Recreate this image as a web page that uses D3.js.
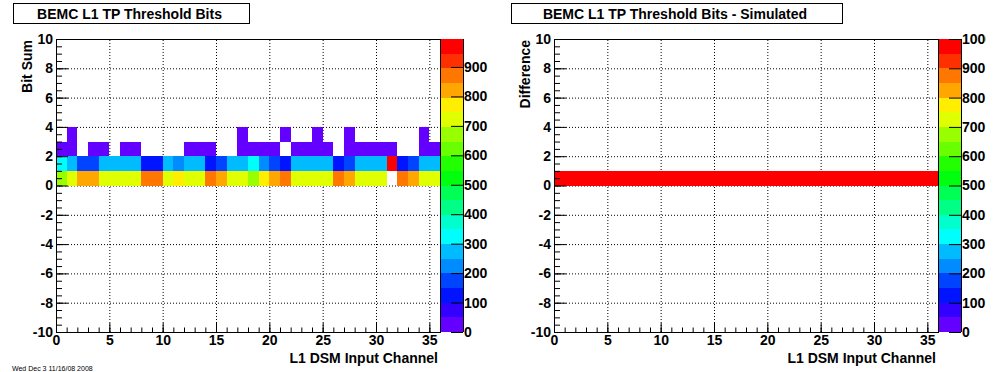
<!DOCTYPE html>
<meta charset="utf-8">
<head>
<script src="https://cdnjs.cloudflare.com/ajax/libs/d3/7.8.5/d3.min.js"></script>
<style>
  body { margin: 0; background: #fff; }
  text { font-family: "Liberation Sans", Arial, sans-serif; font-weight: bold; }
</style>
</head>
<body>
<div id="chart"></div>
<script>

// channel numbers 0..35 (one bin per channel)
var channels = d3.range(36);

// counts per bit-sum bin (left pad)
var bitSum0 = [675,720,820,810,725,730,722,725,880,875,730,770,725,728,870,815,735,715,
               680,775,825,870,730,728,720,725,875,810,730,728,725,0,870,820,720,722];
var bitSum1 = [310,265,180,180,265,270,270,265,120,125,270,230,265,262,122,185,265,270,
               310,215,165,125,262,262,265,265,125,175,260,262,265,995,130,180,270,270];
var bitSum2 = [15,10,0,10,10,0,8,10,0,0,0,0,10,10,8,0,0,10,
               10,10,10,0,8,10,10,10,0,10,10,10,10,5,0,0,7,8];
var bitSum3 = [0,5,0,0,0,0,0,0,0,0,0,0,0,0,0,0,0,5,
               0,0,0,5,0,0,5,0,0,5,0,0,0,0,0,0,3,0];

// difference data/sim (right pad): all entries in the 0 bin
var diff0 = [1000,1000,1000,1000,1000,1000,1000,1000,1000,1000,1000,1000,1000,1000,1000,1000,1000,1000,
             1000,1000,1000,1000,1000,1000,1000,1000,1000,1000,1000,1000,1000,1000,1000,1000,1000,1000];

var xTicks = [0,5,10,15,20,25,30,35];
var yTicks = [-10,-8,-6,-4,-2,0,2,4,6,8,10];
var zTicks = [0,100,200,300,400,500,600,700,800,900,1000];

// ROOT "pretty" palette, 20 contour levels picked out of 50 colours
var nLevels = 20;
var palette = d3.range(nLevels).map(function(k) {
    var idx = Math.floor((k + 0.99) * 50 / nLevels);
    return d3.hsl(280 - (idx + 1) * 5.6, 1, 0.5).formatHex();
});

var W = 996, H = 372, fs = "14px";
var plain = function(d) { return String(d); };

var svg = d3.select("#chart").append("svg")
    .attr("width", W).attr("height", H);
var defs = svg.append("defs");

function styleText(sel) {
    sel.style("font-size", fs).attr("fill", "#000")
       .style("font-family", "'Liberation Sans', Arial, sans-serif").style("font-weight", "bold");
}

function drawPad(ox, id, title, yTitle, rows, boxW) {
    var g = svg.append("g").attr("transform", "translate(" + ox + ",0)");

    // the canvas edge cuts the last palette label
    defs.append("clipPath").attr("id", "clip" + id)
      .append("rect").attr("x", 0).attr("y", 0).attr("width", 986 - ox).attr("height", H);

    var x = d3.scaleLinear().domain([0, 36]).range([56, 440]);
    var y = d3.scaleLinear().domain([-10, 10]).range([332, 39]);

    var zmax = d3.max(rows, function(r) { return d3.max(r); });
    var z = d3.scaleLinear().domain([0, zmax]).range([332, 39]);

    // grid
    g.append("g").selectAll("line").data(xTicks.filter(function(d) { return d > 0; }))
      .enter().append("line")
        .attr("x1", function(d) { return x(d) + 0.5; }).attr("x2", function(d) { return x(d) + 0.5; })
        .attr("y1", y(-10)).attr("y2", y(10))
        .attr("stroke", "#000").attr("stroke-dasharray", "1,2");
    g.append("g").selectAll("line").data(yTicks.filter(function(d) { return d > -10 && d < 10; }))
      .enter().append("line")
        .attr("x1", x(0)).attr("x2", x(36))
        .attr("y1", function(d) { return y(d) + 0.5; }).attr("y2", function(d) { return y(d) + 0.5; })
        .attr("stroke", "#000").attr("stroke-dasharray", "1,2");

    // cells
    var cells = [];
    rows.forEach(function(r, ri) {
        r.forEach(function(v, c) { if (v > 0) cells.push({c: channels[c], r: ri, v: v}); });
    });
    g.append("g").selectAll("rect").data(cells).enter().append("rect")
        .attr("x", function(d) { return x(d.c); })
        .attr("width", function(d) { return x(d.c + 1) - x(d.c); })
        .attr("y", function(d) { return y(d.r + 1); })
        .attr("height", function(d) { return y(d.r) - y(d.r + 1); })
        .attr("fill", function(d) { return palette[Math.min(nLevels - 1, Math.floor(d.v / zmax * nLevels))]; })
        .attr("shape-rendering", "crispEdges");

    // axes (ticks pointing inside)
    var xMajor = d3.axisBottom(x).tickValues(xTicks).tickSize(-9).tickPadding(3).tickFormat(plain);
    var xMinor = d3.axisBottom(x).tickValues(d3.range(0, 37)).tickSize(-4.5).tickFormat("");
    var yMajor = d3.axisLeft(y).tickValues(yTicks).tickSize(-12).tickPadding(3).tickFormat(plain);
    var yMinor = d3.axisLeft(y).tickValues(d3.range(-10, 10.01, 0.5)).tickSize(-6).tickFormat("");

    [[xMinor, "x"], [xMajor, "x"], [yMinor, "y"], [yMajor, "y"]].forEach(function(a) {
        var ag = g.append("g")
            .attr("transform", a[1] == "x" ? "translate(0," + y(-10) + ")" : "translate(" + x(0) + ",0)")
            .call(a[0]);
        ag.select(".domain").remove();
        ag.selectAll("line").attr("stroke", "#000");
        styleText(ag.selectAll("text"));
    });

    // frame
    g.append("rect").attr("x", x(0) + 0.5).attr("y", y(10) + 0.5)
        .attr("width", x(36) - x(0)).attr("height", y(-10) - y(10))
        .attr("fill", "none").attr("stroke", "#000").attr("shape-rendering", "crispEdges");

    // colour bar
    var zx0 = 441, zx1 = 463;
    g.append("g").selectAll("rect").data(d3.range(nLevels)).enter().append("rect")
        .attr("x", zx0).attr("width", zx1 - zx0)
        .attr("y", function(k) { return z((k + 1) * zmax / nLevels); })
        .attr("height", function(k) { return z(k * zmax / nLevels) - z((k + 1) * zmax / nLevels); })
        .attr("fill", function(k) { return palette[k]; })
        .attr("shape-rendering", "crispEdges");
    var zAxis = d3.axisRight(z).tickValues(zTicks.filter(function(d) { return d <= zmax; }))
        .tickSize(-12).tickPadding(1).tickFormat(plain);
    var zg = g.append("g").attr("clip-path", "url(#clip" + id + ")")
      .append("g").attr("transform", "translate(" + zx1 + ",0)").call(zAxis);
    zg.select(".domain").attr("d", "M0.5," + z(zmax) + "V" + z(0)).attr("stroke", "#000");
    zg.selectAll("line").attr("stroke", "#000");
    styleText(zg.selectAll("text"));

    // axis titles
    g.append("text").attr("x", x(36) - 2).attr("y", 363)
        .attr("text-anchor", "end").style("font-size", fs).text("L1 DSM Input Channel");
    g.append("text").attr("transform", "translate(32," + (y(10) + 1) + ") rotate(-90)")
        .attr("text-anchor", "end").style("font-size", fs).text(yTitle);

    // title box
    g.append("rect").attr("x", 13.5).attr("y", 3.5).attr("width", boxW).attr("height", 20)
        .attr("fill", "#fff").attr("stroke", "#000");
    g.append("text").attr("x", 13.5 + boxW / 2 - 2).attr("y", 19)
        .attr("text-anchor", "middle").style("font-size", fs).text(title);
}

drawPad(0, "L", "BEMC L1 TP Threshold Bits", "Bit Sum", [bitSum0, bitSum1, bitSum2, bitSum3], 236);
drawPad(498, "R", "BEMC L1 TP Threshold Bits - Simulated", "Difference", [diff0], 331);

// date stamp at the canvas bottom
svg.append("text").attr("x", 12).attr("y", 371)
    .style("font-size", "7px").style("font-weight", "normal").text("Wed Dec 3 11/16/08 2008");

</script>
</body>
